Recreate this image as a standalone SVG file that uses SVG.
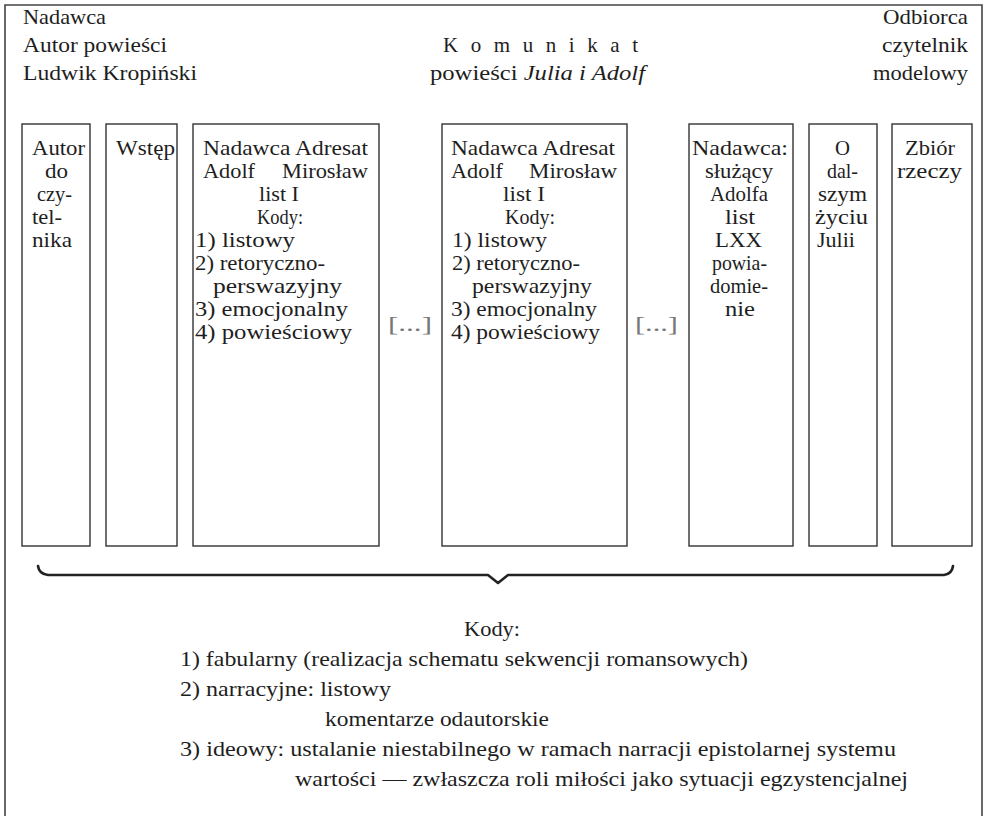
<svg xmlns="http://www.w3.org/2000/svg" width="989" height="816" viewBox="0 0 989 816">
<style>
text{font-family:"Liberation Serif","Times New Roman",serif;font-size:21px;fill:#1e1e1e;}
.box{fill:none;stroke:#333;stroke-width:1.4;}
.frame{fill:none;stroke:#444;stroke-width:1.6;}
.mid{text-anchor:middle;}
.dots{fill:#777;}
.low{font-size:21px;}
.brace{fill:none;stroke:#222;stroke-width:2.6;stroke-linejoin:round;stroke-linecap:round;}
</style>
<rect width="989" height="816" fill="#fff"/>
<path class="frame" d="M5,816 V5 H982 V816"/>

<g id="header-left">
<text x="23" y="24" textLength="83" lengthAdjust="spacingAndGlyphs">Nadawca</text>
<text x="23" y="52" textLength="144" lengthAdjust="spacingAndGlyphs">Autor powieści</text>
<text x="23" y="80" textLength="174" lengthAdjust="spacingAndGlyphs">Ludwik Kropiński</text>
</g>
<g id="header-center">
<text x="443" y="52" textLength="195" lengthAdjust="spacing">Komunikat</text>
<text x="430" y="80" textLength="215" lengthAdjust="spacingAndGlyphs">powieści <tspan font-style="italic">Julia i Adolf</tspan></text>
</g>
<g id="header-right">
<text x="883" y="24" textLength="85" lengthAdjust="spacingAndGlyphs">Odbiorca</text>
<text x="882" y="52" textLength="86" lengthAdjust="spacingAndGlyphs">czytelnik</text>
<text x="873" y="80" textLength="95" lengthAdjust="spacingAndGlyphs">modelowy</text>
</g>

<g id="box-autor">
<rect class="box" x="22" y="124" width="68" height="422"/>
<text x="32" y="155" textLength="53" lengthAdjust="spacingAndGlyphs">Autor</text>
<text x="45" y="178" textLength="23" lengthAdjust="spacingAndGlyphs">do</text>
<text x="37" y="201" textLength="35" lengthAdjust="spacingAndGlyphs">czy-</text>
<text x="32" y="224" textLength="30" lengthAdjust="spacingAndGlyphs">tel-</text>
<text x="32" y="247" textLength="40" lengthAdjust="spacingAndGlyphs">nika</text>
</g>

<g id="box-wstep">
<rect class="box" x="106" y="124" width="71" height="422"/>
<text x="116" y="155" textLength="59" lengthAdjust="spacingAndGlyphs">Wstęp</text>
</g>

<g id="box-list1">
<rect class="box" x="193" y="124" width="186" height="422"/>
<text x="203" y="155" textLength="165" lengthAdjust="spacingAndGlyphs">Nadawca Adresat</text>
<text x="203" y="178" textLength="52" lengthAdjust="spacingAndGlyphs">Adolf</text>
<text x="282" y="178" textLength="86" lengthAdjust="spacingAndGlyphs">Mirosław</text>
<text x="259" y="201" textLength="40" lengthAdjust="spacingAndGlyphs">list I</text>
<text x="257" y="224" textLength="46" lengthAdjust="spacingAndGlyphs">Kody:</text>
<text x="195" y="247" textLength="100" lengthAdjust="spacingAndGlyphs">1) listowy</text>
<text x="195" y="270" textLength="130" lengthAdjust="spacingAndGlyphs">2) retoryczno-</text>
<text x="213" y="293" textLength="129" lengthAdjust="spacingAndGlyphs">perswazyjny</text>
<text x="195" y="316" textLength="153" lengthAdjust="spacingAndGlyphs">3) emocjonalny</text>
<text x="195" y="339" textLength="157" lengthAdjust="spacingAndGlyphs">4) powieściowy</text>
</g>

<g id="gap-1">
<text x="388" y="331" class="dots" textLength="44" lengthAdjust="spacingAndGlyphs">[...]</text>
</g>

<g id="box-list1b">
<rect class="box" x="442" y="124" width="185" height="422"/>
<text x="451" y="155" textLength="164" lengthAdjust="spacingAndGlyphs">Nadawca Adresat</text>
<text x="451" y="178" textLength="52" lengthAdjust="spacingAndGlyphs">Adolf</text>
<text x="529" y="178" textLength="88" lengthAdjust="spacingAndGlyphs">Mirosław</text>
<text x="503" y="201" textLength="42" lengthAdjust="spacingAndGlyphs">list I</text>
<text x="505" y="224" textLength="50" lengthAdjust="spacingAndGlyphs">Kody:</text>
<text x="452" y="247" textLength="95" lengthAdjust="spacingAndGlyphs">1) listowy</text>
<text x="452" y="270" textLength="128" lengthAdjust="spacingAndGlyphs">2) retoryczno-</text>
<text x="472" y="293" textLength="120" lengthAdjust="spacingAndGlyphs">perswazyjny</text>
<text x="451" y="316" textLength="146" lengthAdjust="spacingAndGlyphs">3) emocjonalny</text>
<text x="451" y="339" textLength="149" lengthAdjust="spacingAndGlyphs">4) powieściowy</text>
</g>

<g id="gap-2">
<text x="635" y="331" class="dots" textLength="43" lengthAdjust="spacingAndGlyphs">[...]</text>
</g>

<g id="box-lxx">
<rect class="box" x="689" y="124" width="104" height="422"/>
<text x="692" y="155" textLength="96" lengthAdjust="spacingAndGlyphs">Nadawca:</text>
<text x="705" y="178" textLength="68" lengthAdjust="spacingAndGlyphs">służący</text>
<text x="710" y="201" textLength="58" lengthAdjust="spacingAndGlyphs">Adolfa</text>
<text x="725" y="224" textLength="30" lengthAdjust="spacingAndGlyphs">list</text>
<text x="715" y="247" textLength="47" lengthAdjust="spacingAndGlyphs">LXX</text>
<text x="712" y="270" textLength="55" lengthAdjust="spacingAndGlyphs">powia-</text>
<text x="710" y="293" textLength="58" lengthAdjust="spacingAndGlyphs">domie-</text>
<text x="725" y="316" textLength="30" lengthAdjust="spacingAndGlyphs">nie</text>
</g>

<g id="box-dalsze">
<rect class="box" x="809" y="124" width="68" height="422"/>
<text x="835" y="155" textLength="15" lengthAdjust="spacingAndGlyphs">O</text>
<text x="827" y="178" textLength="31" lengthAdjust="spacingAndGlyphs">dal-</text>
<text x="818" y="201" textLength="49" lengthAdjust="spacingAndGlyphs">szym</text>
<text x="815" y="224" textLength="53" lengthAdjust="spacingAndGlyphs">życiu</text>
<text x="817" y="247" textLength="38" lengthAdjust="spacingAndGlyphs">Julii</text>
</g>

<g id="box-zbior">
<rect class="box" x="892" y="124" width="80" height="422"/>
<text x="905" y="155" textLength="50" lengthAdjust="spacingAndGlyphs">Zbiór</text>
<text x="897" y="178" textLength="65" lengthAdjust="spacingAndGlyphs">rzeczy</text>
</g>

<g id="connectors">
<path class="brace" d="M38,566 Q39,574 48,575 H488 L498,583 L508,575 H944 Q952,574 953,566"/>
</g>

<g id="codes">
<text x="464" y="636" class="low" textLength="56" lengthAdjust="spacingAndGlyphs">Kody:</text>
<text x="180" y="666" class="low" textLength="568" lengthAdjust="spacingAndGlyphs">1) fabularny (realizacja schematu sekwencji romansowych)</text>
<text x="180" y="696" class="low" textLength="211" lengthAdjust="spacingAndGlyphs">2) narracyjne: listowy</text>
<text x="325" y="726" class="low" textLength="224" lengthAdjust="spacingAndGlyphs">komentarze odautorskie</text>
<text x="180" y="756" class="low" textLength="716" lengthAdjust="spacingAndGlyphs">3) ideowy: ustalanie niestabilnego w ramach narracji epistolarnej systemu</text>
<text x="295" y="786" class="low" textLength="613" lengthAdjust="spacingAndGlyphs">wartości — zwłaszcza roli miłości jako sytuacji egzystencjalnej</text>
</g>
</svg>
